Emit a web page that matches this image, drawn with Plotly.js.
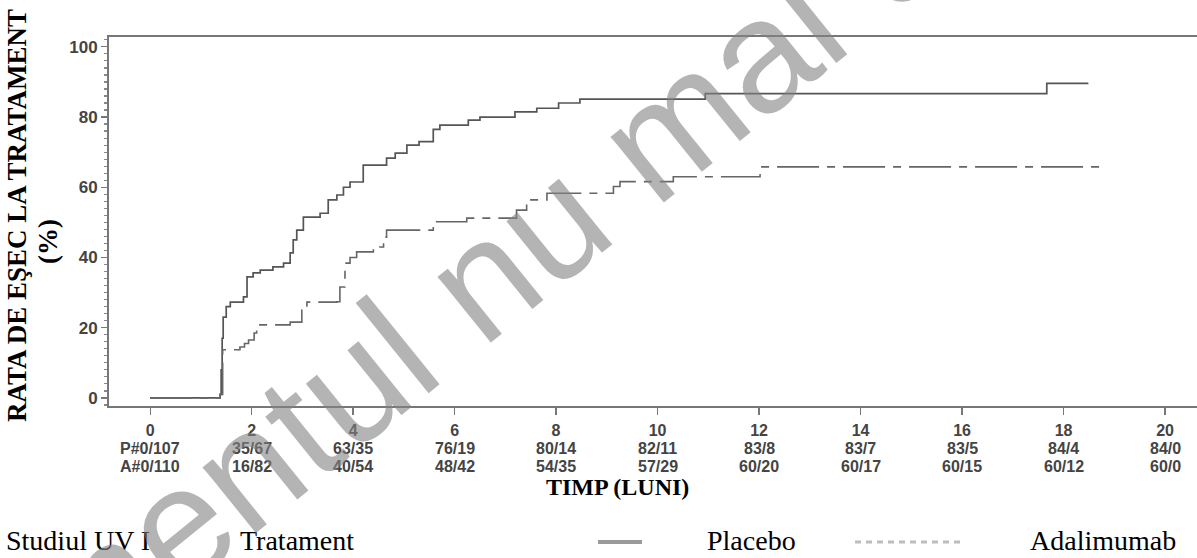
<!DOCTYPE html>
<html>
<head>
<meta charset="utf-8">
<script src="https://cdn.plot.ly/plotly-3.0.1.min.js"></script>
<style>html,body{margin:0;padding:0;background:#fff;}#chart{width:1197px;height:558px;}</style>
</head>
<body>
<div id="chart"></div>
<script>
// ---- data ----
const placeboTime = [0, 1.38, 1.40, 1.42, 1.44, 1.50, 1.58, 1.84, 1.91, 2.03, 2.17, 2.42, 2.63, 2.76, 2.82, 2.89, 3.02, 3.35, 3.51, 3.68, 3.81, 3.94, 4.20, 4.66, 4.83, 5.06, 5.30, 5.58, 5.71, 6.27, 6.50, 7.19, 7.62, 8.05, 8.47, 10.94, 17.67, 18.49];
const placeboRate = [0, 1, 8, 17, 23, 26, 27.3, 28.8, 34.5, 35.6, 36.4, 37.3, 38.4, 41.3, 45, 47.8, 51.5, 52.6, 56.4, 57.8, 60, 61.5, 66.3, 68.3, 69.7, 72, 73, 76.5, 77.7, 79.1, 80, 81.5, 82.5, 84, 85.1, 86.7, 89.6, 89.6];

const adaTime = [0, 1.38, 1.43, 1.77, 1.86, 1.94, 2.05, 2.10, 2.76, 2.99, 3.09, 3.68, 3.74, 3.84, 3.94, 4.07, 4.40, 4.60, 4.66, 5.58, 6.24, 7.22, 7.42, 7.82, 9.13, 9.26, 10.31, 12.02, 18.72];
const adaRate = [0, 1, 13.7, 14.5, 15.5, 16.5, 18.5, 20.8, 21.6, 25, 27.3, 27.4, 31.6, 38.4, 40, 41.6, 43, 45.8, 47.8, 50.2, 51.2, 53.5, 56.4, 58.3, 60.2, 61.6, 63, 65.8, 65.8];

const tickMonths = [0, 2, 4, 6, 8, 10, 12, 14, 16, 18, 20];
const placeboCounts = ["P#0/107", "35/67", "63/35", "76/19", "80/14", "82/11", "83/8", "83/7", "83/5", "84/4", "84/0"];
const adaCounts = ["A#0/110", "16/82", "40/54", "48/42", "54/35", "57/29", "60/20", "60/17", "60/15", "60/12", "60/0"];
const yTicks = [0, 20, 40, 60, 80, 100];

const seriesNames = ["Placebo", "Adalimumab"];
const yTitle = "RATA DE EŞEC LA TRATAMENT";
const yTitle2 = "(%)";
const xTitle = "TIMP (LUNI)";
const legendStudy = "Studiul UV I";
const legendTreat = "Tratament";
const watermark = "Medicamentul nu mai este autorizat";

const traces = [
  {x: placeboTime, y: placeboRate, type: "scatter", mode: "lines", name: seriesNames[0],
   line: {shape: "hv", color: "#555555", width: 1.7}, hoverinfo: "skip"},
  {x: adaTime, y: adaRate, type: "scatter", mode: "lines", name: seriesNames[1],
   line: {shape: "hv", color: "#666666", width: 1.6, dash: "42px,8px,8px,8px"}, hoverinfo: "skip"}
];

const W = 1197, H = 558, L = 109, R = 0, T = 37, B = 152;
const pw = W - L - R, ph = H - T - B;
const px = v => (v - L) / pw;         // pixel x -> paper x
const py = v => (H - B - v) / ph;     // pixel y -> paper y

const serif = "Liberation Serif, Times New Roman, serif";
const sans = "Liberation Sans, Arial, sans-serif";
const yTickFont = {family: sans, size: 17, color: "#444", weight: "bold"};
const xTickFont = {family: sans, size: 16, color: "#444", weight: "bold"};

const annotations = [
  {text: "<b>" + yTitle + "</b>", xref: "paper", yref: "paper", x: px(17), y: py(216),
   textangle: -90, showarrow: false, xanchor: "center", yanchor: "middle",
   font: {family: serif, size: 27, color: "#000"}},
  {text: "<b>" + yTitle2 + "</b>", xref: "paper", yref: "paper", x: px(48), y: py(242),
   textangle: -90, showarrow: false, xanchor: "center", yanchor: "middle",
   font: {family: serif, size: 27, color: "#000"}},
  {text: "<b>" + xTitle + "</b>", xref: "paper", yref: "paper", x: px(617), y: py(487),
   showarrow: false, xanchor: "center", yanchor: "middle",
   font: {family: serif, size: 24, color: "#000"}},
  {text: legendStudy, xref: "paper", yref: "paper", x: px(4), y: py(540),
   showarrow: false, xanchor: "left", yanchor: "middle",
   font: {family: serif, size: 28, color: "#000"}},
  {text: legendTreat, xref: "paper", yref: "paper", x: px(238), y: py(540),
   showarrow: false, xanchor: "left", yanchor: "middle",
   font: {family: serif, size: 28, color: "#000"}},
  {text: seriesNames[0], xref: "paper", yref: "paper", x: px(705), y: py(540),
   showarrow: false, xanchor: "left", yanchor: "middle",
   font: {family: serif, size: 28, color: "#000"}},
  {text: seriesNames[1], xref: "paper", yref: "paper", x: px(1028), y: py(540),
   showarrow: false, xanchor: "left", yanchor: "middle",
   font: {family: serif, size: 28, color: "#000"}}
];
// at-risk rows under the month ticks
tickMonths.forEach((m, i) => {
  annotations.push({text: placeboCounts[i], xref: "x", yref: "paper", x: m, y: py(448),
    showarrow: false, xanchor: "center", yanchor: "middle", font: xTickFont});
  annotations.push({text: adaCounts[i], xref: "x", yref: "paper", x: m, y: py(466),
    showarrow: false, xanchor: "center", yanchor: "middle", font: xTickFont});
});
annotations.push({text: watermark, xref: "paper", yref: "paper", x: px(620), y: py(166),
  textangle: -39, showarrow: false, xanchor: "center", yanchor: "middle",
  font: {family: sans, size: 160, color: "rgba(130,130,130,0.6)"}});

const layout = {
  width: W, height: H,
  margin: {l: L, r: R, t: T, b: B, pad: 0},
  paper_bgcolor: "#ffffff", plot_bgcolor: "#ffffff",
  showlegend: false,
  xaxis: {
    range: [-0.81, 20.63], tickmode: "array", tickvals: tickMonths, ticktext: tickMonths.map(String),
    ticks: "outside", ticklen: 7, tickwidth: 1.2, tickcolor: "#777",
    ticklabelstandoff: 2,
    showline: true, linecolor: "#777", linewidth: 2, mirror: true,
    showgrid: false, zeroline: false,
    tickfont: xTickFont
  },
  yaxis: {
    range: [-2.3, 102.8], tickmode: "array", tickvals: yTicks,
    ticks: "outside", ticklen: 6, tickwidth: 1.2, tickcolor: "#777",
    minor: {dtick: 2, ticks: "outside", ticklen: 3, tickcolor: "#888", showgrid: false},
    showline: true, linecolor: "#777", linewidth: 2,
    showgrid: false, zeroline: false,
    tickfont: yTickFont
  },
  annotations: annotations,
  shapes: [
    {type: "line", xref: "paper", yref: "paper", x0: px(598), x1: px(642), y0: py(542), y1: py(542),
     line: {color: "#9a9a9a", width: 4}},
    {type: "line", xref: "paper", yref: "paper", x0: px(855), x1: px(960), y0: py(542), y1: py(542),
     line: {color: "#bdbdbd", width: 3, dash: "6px,5px"}}
  ]
};

Plotly.newPlot("chart", traces, layout, {staticPlot: true, displayModeBar: false});
</script>
</body>
</html>
